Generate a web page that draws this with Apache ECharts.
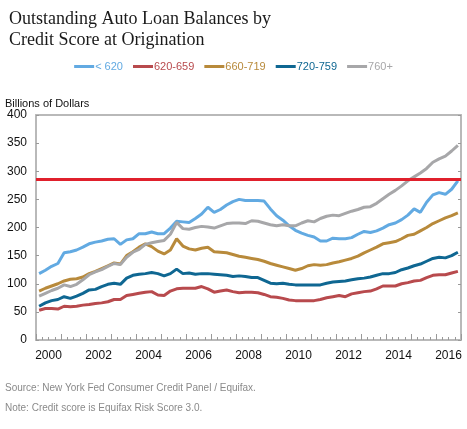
<!DOCTYPE html>
<html>
<head>
<meta charset="utf-8">
<script src="https://cdn.jsdelivr.net/npm/echarts@6/dist/echarts.min.js"></script>
<style>
  html, body { margin: 0; padding: 0; background: #fff; }
  #chart { width: 467px; height: 429px; }
</style>
</head>
<body>
<div id="chart"></div>
<script>
// years on the axis, data is quarterly from 2000Q1
const years = ['2000', '2001', '2002', '2003', '2004', '2005', '2006', '2007', '2008',
    '2009', '2010', '2011', '2012', '2013', '2014', '2015', '2016'];
const yearLabels = ['2000', '', '2002', '', '2004', '', '2006', '', '2008',
    '', '2010', '', '2012', '', '2014', '', '2016'];

const seriesNames = ['< 620', '620-659', '660-719', '720-759', '760+'];
const seriesColors = ['#62aae2', '#b84a4d', '#b88a3b', '#0f6792', '#a7a7a9'];

// billions of dollars, quarterly
const below620 = [118, 124, 131, 136, 155, 157, 160, 165, 171, 174, 176, 179, 180, 170, 178, 180, 189, 189, 192, 189,
    189, 199, 211, 210, 209, 216, 224, 236, 227, 232, 240, 246, 250, 248, 248, 248, 247, 233, 221, 213,
    203, 195, 190, 186, 183, 176, 176, 181, 180, 180, 182, 188, 193, 191, 194, 199, 205, 208, 214, 222,
    233, 227, 245, 258, 262, 259, 268, 283];
const s620to659 = [53, 56, 56, 55, 60, 59, 60, 62, 63, 65, 66, 68, 72, 72, 79, 81, 83, 85, 86, 80,
    79, 87, 91, 92, 92, 92, 95, 91, 85, 87, 89, 86, 84, 85, 85, 84, 81, 77, 76, 74,
    71, 70, 70, 70, 70, 72, 75, 77, 79, 77, 82, 84, 86, 87, 91, 96, 96, 96, 100, 102,
    105, 106, 111, 115, 116, 116, 119, 122];
const s660to719 = [87, 92, 96, 100, 105, 108, 109, 112, 118, 122, 127, 132, 137, 135, 150, 157, 165, 171, 166, 158,
    153, 160, 180, 167, 162, 160, 163, 165, 157, 156, 155, 152, 149, 147, 145, 143, 140, 136, 133, 130,
    127, 124, 127, 132, 134, 133, 134, 137, 139, 142, 145, 149, 155, 160, 165, 171, 173, 175, 180, 186,
    188, 194, 200, 207, 212, 217, 221, 226];
const s720to759 = [60, 66, 70, 72, 77, 74, 78, 83, 89, 90, 95, 99, 101, 99, 110, 115, 117, 118, 120, 118,
    114, 118, 126, 118, 119, 117, 118, 118, 117, 116, 115, 113, 114, 113, 111, 111, 106, 101, 100, 101,
    99, 98, 98, 98, 98, 98, 101, 103, 104, 105, 107, 109, 110, 112, 115, 118, 118, 120, 125, 128,
    132, 135, 140, 145, 147, 146, 150, 156];
const s760plus = [78, 83, 88, 92, 98, 95, 99, 107, 116, 121, 125, 131, 136, 134, 147, 156, 161, 170, 173, 175,
    177, 188, 209, 198, 197, 200, 202, 201, 199, 203, 207, 208, 208, 207, 212, 211, 208, 205, 203, 205,
    203, 203, 208, 212, 210, 216, 220, 222, 221, 225, 229, 232, 236, 237, 243, 251, 259, 266, 274, 283,
    290, 297, 305, 316, 322, 327, 336, 346];
const seriesValues = [below620, s620to659, s660to719, s720to759, s760plus];

const referenceLine = 285;
const yTicks = [0, 50, 100, 150, 200, 250, 300, 350, 400];

const quarters = [];
years.forEach(y => ['Q1', 'Q2', 'Q3', 'Q4'].forEach(q => quarters.push(y + q)));

const chart = echarts.init(document.getElementById('chart'));
const font = '"Liberation Sans", Arial, sans-serif';
const axisGrey = '#b9b9b9';

const series = seriesNames.map((name, i) => ({
    name: name,
    type: 'line',
    xAxisIndex: 0,
    data: seriesValues[i],
    symbol: 'none',
    lineStyle: { width: 3, color: seriesColors[i] },
    itemStyle: { color: seriesColors[i] },
    z: 3
}));

// red reference line across the plot
series[0].markLine = {
    silent: true,
    symbol: 'none',
    label: { show: false },
    lineStyle: { color: '#e0202c', width: 3, type: 'solid' },
    data: [{ yAxis: referenceLine }],
    z: 10
};

const option = {
    animation: false,
    backgroundColor: '#fff',
    textStyle: { fontFamily: font },
    title: {
        text: 'Outstanding Auto Loan Balances by\nCredit Score at Origination',
        left: 4,
        top: 4,
        textStyle: {
            fontFamily: '"Liberation Serif", "Times New Roman", serif',
            fontSize: 18,
            fontWeight: 'normal',
            color: '#1a1a1a',
            lineHeight: 21
        }
    },
    legend: {
        top: 56,
        left: 'center',
        icon: 'rect',
        itemWidth: 20,
        itemHeight: 3,
        itemGap: 10,
        data: seriesNames.map((n, i) => ({ name: n, textStyle: { color: seriesColors[i] } })),
        textStyle: { fontSize: 11, fontFamily: font, padding: [0, 0, 0, -4] }
    },
    graphic: [
        { type: 'text', left: 5, top: 98, style: { text: 'Billions of Dollars', fontSize: 11, fontFamily: font, fill: '#111' } },
        { type: 'text', left: 5, top: 383, style: { text: 'Source: New York Fed Consumer Credit Panel / Equifax.', fontSize: 10, fontFamily: font, fill: '#8a8a8a' } },
        { type: 'text', left: 5, top: 403, style: { text: 'Note: Credit score is Equifax Risk Score 3.0.', fontSize: 10, fontFamily: font, fill: '#8a8a8a' } }
    ],
    grid: { left: 36, right: 6, top: 115, bottom: 89 },
    xAxis: [
        {
            type: 'category',
            data: quarters,
            boundaryGap: true,
            position: 'bottom',
            axisLine: { show: true, lineStyle: { color: axisGrey, width: 2 } },
            axisTick: { show: true, inside: true, length: 3, interval: 0, lineStyle: { color: '#999' } },
            axisLabel: { show: false },
            splitLine: { show: false }
        },
        {
            type: 'category',
            data: years,
            boundaryGap: true,
            position: 'bottom',
            axisLine: { show: false },
            axisTick: { show: true, inside: true, length: 6, interval: 0, lineStyle: { color: '#999' } },
            axisLabel: {
                interval: 0,
                margin: 10,
                fontSize: 12,
                color: '#111',
                formatter: (v, idx) => yearLabels[idx]
            },
            splitLine: { show: false }
        },
        {
            type: 'category',
            data: years,
            position: 'top',
            axisLine: { show: true, lineStyle: { color: axisGrey, width: 2 } },
            axisTick: { show: false },
            axisLabel: { show: false }
        }
    ],
    yAxis: [
        {
            type: 'value',
            min: 0,
            max: 400,
            interval: 50,
            position: 'left',
            axisLine: { show: true, lineStyle: { color: axisGrey, width: 2 } },
            axisTick: { show: true, inside: true, length: 3, lineStyle: { color: '#999' } },
            axisLabel: {
                fontSize: 12,
                color: '#111',
                margin: 9,
                formatter: v => (yTicks.includes(v) ? String(v) : '')
            },
            splitLine: { show: false }
        },
        {
            type: 'value',
            min: 0,
            max: 400,
            interval: 50,
            position: 'right',
            axisLine: { show: true, lineStyle: { color: axisGrey, width: 2 } },
            axisTick: { show: true, inside: true, length: 3, lineStyle: { color: '#999' } },
            axisLabel: { show: false },
            splitLine: { show: false }
        }
    ],
    series: series
};

chart.setOption(option);
window.addEventListener('resize', () => chart.resize());
</script>
</body>
</html>
